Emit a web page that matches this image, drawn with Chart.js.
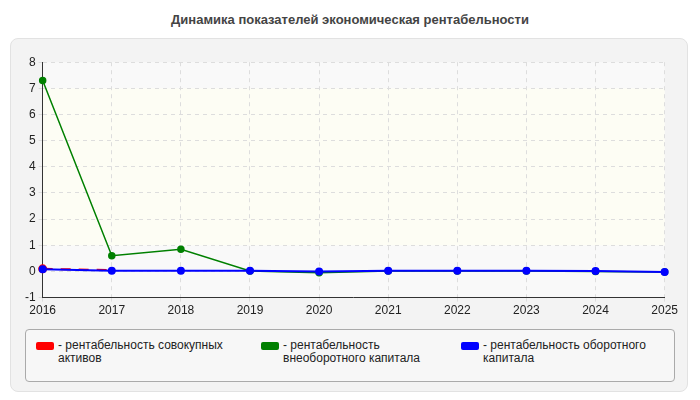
<!DOCTYPE html>
<html><head><meta charset="utf-8">
<script src="https://cdn.jsdelivr.net/npm/chart.js@4"></script>
<style>
body{margin:0;width:700px;height:400px;background:#fff;font-family:"Liberation Sans",Arial,sans-serif;position:relative}
#title{position:absolute;top:12px;left:0;width:700px;text-align:center;font-weight:bold;font-size:13px;color:#444}
#frame{position:absolute;left:10px;top:38px;width:678px;height:354px;background:#f3f3f3;border:1px solid #e2e2e2;border-radius:8px;box-sizing:border-box}
#cv{position:absolute;left:10px;top:52px}
#legend{position:absolute;left:25px;top:329px;width:650px;height:53px;border:1px solid #aaa;border-radius:4px;background:#f7f7f7;box-sizing:border-box;font-size:12px;color:#222}
.it{position:absolute;top:9px;line-height:13px}
.sw{position:absolute;left:0;top:3px;width:18px;height:8px;border-radius:2px}
.tx{position:absolute;left:22px;width:180px}
</style></head><body>
<div id="title">Динамика показателей экономическая рентабельности</div>
<div id="frame"></div>
<canvas id="cv" width="670" height="268"></canvas>
<div id="legend">
<div class="it" style="left:10px"><div class="sw" style="background:red"></div><div class="tx">- рентабельность совокупных активов</div></div>
<div class="it" style="left:235px"><div class="sw" style="background:green"></div><div class="tx">- рентабельность внеоборотного капитала</div></div>
<div class="it" style="left:435px"><div class="sw" style="background:blue"></div><div class="tx">- рентабельность оборотного капитала</div></div>
</div>
<script>
const years = ["2016","2017","2018","2019","2020","2021","2022","2023","2024","2025"];
const assets = [0.1, 0.05, null, null, null, null, null, null, null, null];
const fixedCap = [7.3, 0.6, 0.85, 0.02, -0.05, 0.02, 0.02, 0.02, 0.0, -0.02];
const workingCap = [0.08, 0.03, 0.03, 0.03, 0.0, 0.03, 0.03, 0.03, 0.02, -0.02];
const yTicks = [-1,0,1,2,3,4,5,6,7,8];

const bgPlugin = {id:"bg", beforeDraw(c){const a=c.chartArea,x=c.ctx;x.save();x.fillStyle="#f9f9f9";x.fillRect(a.left,a.top,a.right-a.left,a.bottom-a.top);
 x.fillStyle="#fdfdf4";const y1=c.scales.y.getPixelForValue(7),y2=c.scales.y.getPixelForValue(1);x.fillRect(a.left,y1,a.right-a.left,y2-y1);x.restore();}};

new Chart(document.getElementById("cv"), {
  type:"line",
  data:{labels:years,datasets:[
    {data:assets,borderColor:"red",backgroundColor:"red",borderDash:[10,8],borderWidth:2,pointRadius:[3.5,0,0,0,0,0,0,0,0,0],order:3},
    {data:fixedCap,borderColor:"green",backgroundColor:"green",borderWidth:1.5,pointRadius:3,order:2},
    {data:workingCap,borderColor:"blue",backgroundColor:"blue",borderWidth:2,pointRadius:3,order:1}
  ]},
  options:{responsive:false,animation:false,
    layout:{padding:{left:12,right:14,top:4,bottom:0}},
    plugins:{legend:{display:false},tooltip:{enabled:false}},
    scales:{
      x:{grid:{color:"#ddd",tickLength:4},border:{color:"#333",dash:[4,4]},ticks:{color:"#222",font:{size:12},padding:2}},
      y:{min:-1,max:8,afterBuildTicks(s){s.ticks=yTicks.map(v=>({value:v}))},grid:{color:"#ddd",tickLength:4},border:{color:"#333",dash:[4,4]},ticks:{color:"#222",font:{size:12}}}
    }},
  plugins:[bgPlugin]
});
</script>
</body></html>
